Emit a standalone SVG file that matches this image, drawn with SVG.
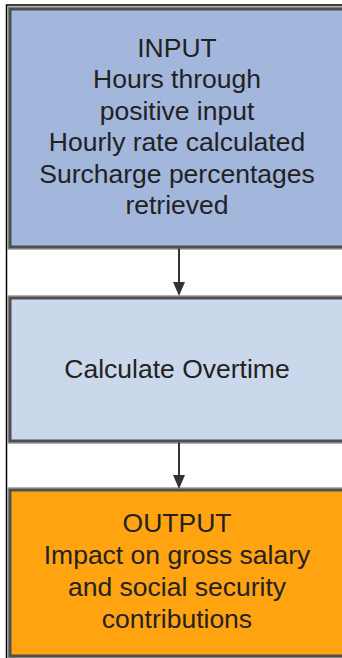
<svg xmlns="http://www.w3.org/2000/svg" width="342" height="658" viewBox="0 0 342 658">
<defs>
<style>
.box{stroke:#4f4f4f;stroke-width:3}
.halo{fill:none;stroke:#9a9a9a;stroke-width:1.5}
.t{font-family:"Liberation Sans",Arial,sans-serif;font-size:26.5px;fill:#222;text-anchor:middle}
.conn{stroke:#333;stroke-width:2;fill:none}
.head{fill:#333}
</style>
</defs>
<rect x="0" y="0" width="342" height="658" fill="#fff"/>
<path d="M6.5,660 L6.5,5 L345,5" fill="none" stroke="#000" stroke-width="1.5"/>
<g id="input">
<rect class="halo" x="8" y="7" width="340" height="242"/>
<rect class="box" x="10" y="9" width="336" height="238" fill="#A3B6DC"/>
<text class="t" x="177" y="56.5">INPUT</text>
<text class="t" x="177" y="88">Hours through</text>
<text class="t" x="177" y="119.5">positive input</text>
<text class="t" x="177" y="151">Hourly rate calculated</text>
<text class="t" x="177" y="182.5">Surcharge percentages</text>
<text class="t" x="177" y="214">retrieved</text>
</g>
<g id="calc">
<rect class="halo" x="8" y="296" width="340" height="147"/>
<rect class="box" x="10" y="298" width="336" height="143" fill="#CBD8EB"/>
<text class="t" x="177" y="378">Calculate Overtime</text>
</g>
<g id="output">
<rect class="halo" x="8" y="488" width="340" height="170"/>
<rect class="box" x="10" y="490" width="336" height="166" fill="#FFA410"/>
<text class="t" x="177" y="532">OUTPUT</text>
<text class="t" x="177" y="564">Impact on gross salary</text>
<text class="t" x="177" y="596">and social security</text>
<text class="t" x="177" y="628">contributions</text>
</g>
<g id="connectors">
<line class="conn" x1="179" y1="248.5" x2="179" y2="284"/>
<path class="head" d="M173,282 L185,282 L179,296 Z"/>
<line class="conn" x1="179" y1="442.5" x2="179" y2="477"/>
<path class="head" d="M173,475 L185,475 L179,489 Z"/>
</g>
</svg>
